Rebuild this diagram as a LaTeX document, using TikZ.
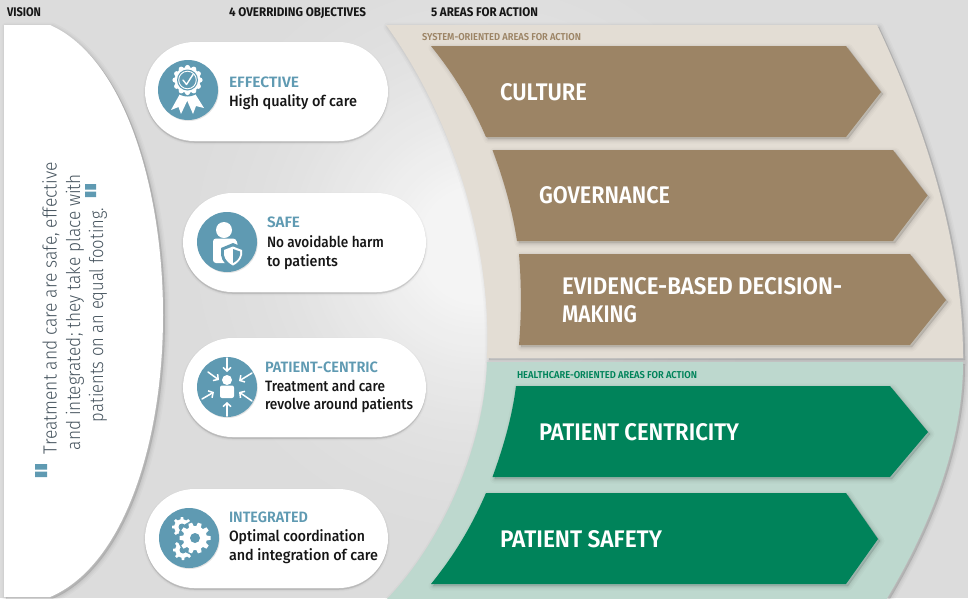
\documentclass[tikz,border=0pt]{standalone}
\usepackage{fontspec}
\usepackage{graphicx}
\setmainfont{Fira Sans}
\newfontfamily\dinmed{Fira Sans Medium}
\newfontfamily\dinsemi{Fira Sans SemiBold}
\newfontfamily\dinlight{Fira Sans Light}
\usetikzlibrary{shapes.misc,arrows.meta}
\definecolor{bggray}{HTML}{DCDCDC}
\definecolor{beige}{HTML}{E3DDD4}
\definecolor{palegreen}{HTML}{BDD8CE}
\definecolor{brownfill}{HTML}{9C8465}
\definecolor{greenfill}{HTML}{00835A}
\definecolor{iconblue}{HTML}{5F9AB2}
\definecolor{visiontext}{HTML}{46545E}
\definecolor{inktext}{HTML}{161616}
\newcommand\fw[2]{\resizebox{#1pt}{\height}{#2}}
\tikzset{
  softshadow/.style={
    preaction={draw=black,fill=black,opacity=.018,line width=9pt,line join=round,transform canvas={xshift=2pt,yshift=-2pt}},
    preaction={draw=black,fill=black,opacity=.025,line width=6pt,line join=round,transform canvas={xshift=2pt,yshift=-2pt}},
    preaction={draw=black,fill=black,opacity=.03,line width=3.5pt,line join=round,transform canvas={xshift=2pt,yshift=-2pt}},
    preaction={draw=black,fill=black,opacity=.035,line width=1pt,line join=round,transform canvas={xshift=2pt,yshift=-2pt}}},
  pillshadow/.style={
    preaction={draw=black,fill=black,opacity=.02,line width=4pt,transform canvas={yshift=-1.5pt}},
    preaction={draw=black,fill=black,opacity=.03,line width=2pt,transform canvas={yshift=-1.5pt}},
    preaction={draw=black,fill=black,opacity=.04,line width=.6pt,transform canvas={yshift=-1.5pt}}},
  pill/.style={rounded rectangle,fill=white,minimum width=243pt,minimum height=99pt,inner sep=0pt,pillshadow},
  iconbase/.style={circle,fill=iconblue,minimum size=60pt,inner sep=0pt,
    preaction={fill=black,opacity=.10,transform canvas={xshift=.8pt,yshift=-1pt}}},
  head/.style={anchor=base west,inner sep=0pt,outer sep=0pt,font=\bfseries\fontsize{12.5}{14}\selectfont,text=inktext},
  objtitle/.style={anchor=base west,inner sep=0pt,outer sep=0pt,font=\dinsemi\fontsize{15}{15}\selectfont,text=iconblue},
  objtext/.style={anchor=base west,inner sep=0pt,outer sep=0pt,font=\dinmed\fontsize{15}{15}\selectfont,text=inktext},
  arrowtext/.style={anchor=base west,inner sep=0pt,outer sep=0pt,font=\dinsemi\fontsize{24}{24}\selectfont,text=white},
  bandtext/.style={anchor=base west,inner sep=0pt,outer sep=0pt,font=\dinsemi\fontsize{10}{10}\selectfont},
  visionline/.style={rotate=90,inner sep=0pt,outer sep=0pt,font=\dinlight\fontsize{19}{19}\selectfont,text=visiontext},
  whiteline/.style={draw=white,line width=1.5pt,line cap=round,line join=round,-{Straight Barb[length=3.6pt,width=8pt]}},
}
\newcommand\gearshape[4]{% x, y, radius, teeth
  \fill[white] (#1,#2) circle ({#3*0.78});
  \foreach \a in {1,...,#4}{
    \fill[white,shift={(#1,#2)},rotate={\a*360/#4}] ({#3*0.7},{-#3*0.17}) -- ({#3},{-#3*0.12}) -- ({#3},{#3*0.12}) -- ({#3*0.7},{#3*0.17}) -- cycle;
  }
}
\begin{document}
\begin{tikzpicture}[x=1pt,y=-1pt]
\useasboundingbox (0,0) rectangle (968,598);
\clip (0,0) rectangle (968,598);
\fill[bggray] (0,0) rectangle (968,598);
% soft glow behind the centre, built from concentric discs
\foreach \r in {300,294,...,60}{
  \pgfmathsetmacro\p{100*pow(1-\r/306,1.7)}
  \fill[white!\p!bggray] (478,245) circle (\r);
}

% Vision
\path[fill=white,softshadow] (4,25) -- (50,25) .. controls (125,58) and (163,190) .. (163,315) .. controls (163,440) and (125,565) .. (50,597) -- (4,597) -- cycle;
\node[visionline] (vision1) at (51,308) {\fw{292}{Treatment and care are safe, effective}};
\node[visionline] (vision2) at (75,312) {\fw{276}{and integrated; they take place with}};
\node[visionline] (vision3) at (98,315) {\fw{214}{patients on an equal footing.}};
\fill[iconblue] (35,464) rectangle (47,469.5) (35,471.5) rectangle (47,477);
\fill[iconblue] (85,184) rectangle (96,189.5) (85,191.5) rectangle (96,197);

% Headers
\node[head] (hvision) at (7,16) {\fw{34}{VISION}};
\node[head] (hobj) at (229,16) {\fw{137}{4 OVERRIDING OBJECTIVES}};
\node[head] (hareas) at (431,16) {\fw{107}{5 AREAS FOR ACTION}};

% Bands
\path[fill=beige,softshadow] (386,25) -- (877,25) .. controls (915,105) and (963,230) .. (963,358) -- (487,358) .. controls (492,250) and (455,120) .. (386,25) -- cycle;
\path[fill=palegreen,softshadow] (487,362) -- (963,362) .. controls (963,450) and (925,535) .. (886,600) -- (386,600) .. controls (440,545) and (484,450) .. (487,362) -- cycle;
\node[bandtext,text=brownfill] (bandsys) at (422,40.5) {\fw{159}{SYSTEM-ORIENTED AREAS FOR ACTION}};
\node[bandtext,text=greenfill] (bandhc) at (517,378.5) {\fw{180}{HEALTHCARE-ORIENTED AREAS FOR ACTION}};

% Arrows
\path[fill=brownfill,softshadow] (431,46) -- (846,46) -- (881,92) -- (846,137) -- (486,137) .. controls (470,100) and (452,72) .. (431,46) -- cycle;
\path[fill=brownfill,softshadow] (492.5,150) -- (893,150) -- (927.5,195.5) -- (893,241) -- (517,241) .. controls (512,208) and (503,178) .. (492.5,150) -- cycle;
\path[fill=brownfill,softshadow] (519,254) -- (910,254) -- (946,300) -- (910,345) -- (519,345) .. controls (521.5,315) and (521.5,285) .. (519,254) -- cycle;
\path[fill=greenfill,softshadow] (516,386) -- (890,386) -- (928,432) -- (890,477) -- (492.5,477) .. controls (503,448) and (512,418) .. (516,386) -- cycle;
\path[fill=greenfill,softshadow] (486,493) -- (846,493) -- (878,539) -- (846,584) -- (431,584) .. controls (452,558) and (470,530) .. (486,493) -- cycle;
\node[arrowtext] (culture) at (500,100) {\fw{87}{CULTURE}};
\node[arrowtext] (governance) at (539,203.5) {\fw{131}{GOVERNANCE}};
\node[arrowtext] (evidence1) at (562,294) {\fw{280}{EVIDENCE-BASED DECISION-}};
\node[arrowtext] (evidence2) at (562,322) {\fw{75}{MAKING}};
\node[arrowtext] (centricity) at (539,440) {\fw{200}{PATIENT CENTRICITY}};
\node[arrowtext] (safety) at (500,547) {\fw{162}{PATIENT SAFETY}};

% Pills
\node[pill] (effective) at (266.5,91.5) {};
\node[pill] (safe) at (304.5,242.5) {};
\node[pill] (centric) at (304.5,387.5) {};
\node[pill] (integrated) at (266.5,538.5) {};

% Icon discs
\node[iconbase] (ieffective) at (188,90) {};
\node[iconbase] (isafe) at (227,242) {};
\node[iconbase] (icentric) at (227,387) {};
\node[iconbase] (iintegrated) at (189,538) {};

% Objective texts
\node[objtitle] (t1) at (229,87) {\fw{70}{EFFECTIVE}};
\node[objtext] (t1a) at (229,106) {\fw{128}{High quality of care}};
\node[objtitle] (t2) at (267,227) {\fw{33}{SAFE}};
\node[objtext] (t2a) at (267,247) {\fw{117}{No avoidable harm}};
\node[objtext] (t2b) at (267,266) {\fw{71}{to patients}};
\node[objtitle] (t3) at (265,372) {\fw{113}{PATIENT-CENTRIC}};
\node[objtext] (t3a) at (265,391) {\fw{120}{Treatment and care}};
\node[objtext] (t3b) at (265,409) {\fw{148}{revolve around patients}};
\node[objtitle] (t4) at (229,522) {\fw{79}{INTEGRATED}};
\node[objtext] (t4a) at (229,541) {\fw{136}{Optimal coordination}};
\node[objtext] (t4b) at (229,560) {\fw{149}{and integration of care}};

% Badge icon
\fill[white,line join=round] (181,92) -- (171,110) -- (178.5,107) -- (181,114) -- (189,97) -- cycle;
\fill[white,line join=round] (194,92) -- (204,108) -- (196,106) -- (193,114) -- (186,98) -- cycle;
\fill[iconblue] (187.5,80) circle (16.5);
\foreach \a in {0,30,...,330}{\fill[white] (187.5,80) ++(\a:12.5) circle (2.6);}
\fill[white] (187.5,80) circle (13);
\fill[iconblue] (187.5,80) circle (10.5);
\draw[white,line width=.9pt] (187.5,80) circle (8.8);
\draw[white,line width=1.4pt,line join=round,line cap=round] (183,80) -- (186.5,84.5) -- (193,74.5);

% Person with shield icon
\fill[white] (224,230) circle (8);
\fill[white,rounded corners=3pt] (213,238.5) -- (236,238.5) -- (238,246) -- (238,263) -- (213,263) -- cycle;
\fill[iconblue] (233,243) -- (245,248) -- (245,255) .. controls (244,262) and (239,266) .. (233,268.5) .. controls (227,266) and (222,262) .. (221,255) -- (221,248) -- cycle;
\fill[white] (233,246.5) -- (242,250) -- (242,255) .. controls (241,260) and (237,263.5) .. (233,265.5) .. controls (229,263.5) and (225,260) .. (224,255) -- (224,250) -- cycle;
\fill[iconblue] (233,249) -- (240,251.5) -- (240,255) .. controls (239,259) and (236,261.5) .. (233,263) -- cycle;

% Patient-centric icon
\fill[white] (227,380) circle (5);
\fill[white,rounded corners=2pt] (220,385.5) rectangle (234,398);
\draw[whiteline] (227,358) -- (227,372);
\draw[whiteline] (227,416) -- (227,402);
\draw[whiteline] (208,372) -- (219,380);
\draw[whiteline] (252,373) -- (239,381);
\draw[whiteline] (202,399) -- (214,392);
\draw[whiteline] (252,401) -- (239,392);

% Gears icon
\gearshape{182}{527}{10}{8}
\fill[iconblue] (182,527) circle (3.5);
\gearshape{183}{550}{10}{8}
\fill[iconblue] (183,550) circle (3.5);
\fill[iconblue] (195,538) circle (17);
\gearshape{195}{538}{15.5}{10}
\fill[iconblue] (195,538) circle (5);
\end{tikzpicture}
\end{document}
